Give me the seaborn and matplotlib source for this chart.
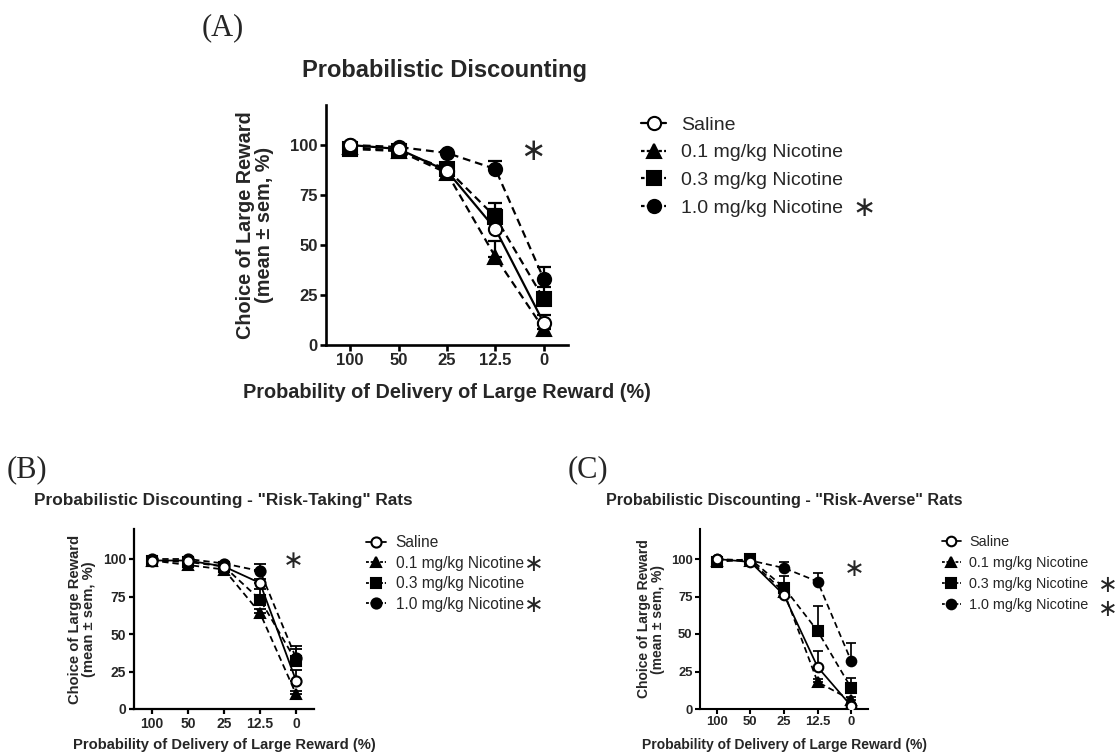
import numpy as np
import pandas as pd
import matplotlib
matplotlib.use("Agg")
import matplotlib.pyplot as plt
import seaborn as sns

sns.set_theme(style="ticks")
plt.rcParams['font.family'] = ['Liberation Sans', 'DejaVu Sans']

# ---------------- data ----------------
prob_labels = ["100", "50", "25", "12.5", "0"]
groups = ["Saline", "0.1 mg/kg Nicotine", "0.3 mg/kg Nicotine", "1.0 mg/kg Nicotine"]

# Panel A (all rats)
a_saline = [100, 98, 87, 58, 11]
a_nic01 = [99, 97, 86, 44, 8]
a_nic03 = [98, 97, 88, 64, 23]
a_nic10 = [100, 99, 96, 88, 33]
a_err_saline = [1, 1, 1, 10, 4]
a_err_nic01 = [1, 1, 1, 8, 2]
a_err_nic03 = [1, 1, 3, 7, 6]
a_err_nic10 = [1, 1, 1, 4, 6]

# Panel B (risk-taking)
b_saline = [99, 99, 95, 84, 19]
b_nic01 = [99, 96, 93, 64, 10]
b_nic03 = [99, 98, 95, 73, 32]
b_nic10 = [100, 100, 97, 92, 34]
b_err_saline = [1, 1, 1, 3, 7]
b_err_nic01 = [1, 1, 1, 3, 2]
b_err_nic03 = [1, 1, 1, 7, 8]
b_err_nic10 = [1, 1, 1, 5, 8]

# Panel C (risk-averse)
c_saline = [100, 98, 76, 28, 2]
c_nic01 = [99, 99, 78, 18, 6]
c_nic03 = [98, 100, 81, 52, 14]
c_nic10 = [100, 99, 94, 85, 32]
c_err_saline = [1, 1, 2, 11, 2]
c_err_nic01 = [1, 1, 2, 2, 2]
c_err_nic03 = [1, 1, 8, 17, 7]
c_err_nic10 = [1, 1, 4, 6, 12]

titles = ["Probabilistic Discounting",
          'Probabilistic Discounting - "Risk-Taking" Rats',
          'Probabilistic Discounting - "Risk-Averse" Rats']
panel_tags = ["(A)", "(B)", "(C)"]
xlabel = "Probability of Delivery of Large Reward (%)"
ylabel = "Choice of Large Reward\n(mean \u00b1 sem, %)"
yticks = [0, 25, 50, 75, 100]

markers = ["o", "^", "s", "o"]
facecolors = ["white", "black", "black", "black"]
linestyles = ["-", (0, (3.5, 2.2)), (0, (3.5, 2.2)), (0, (3.5, 2.2))]

W, H = 1119, 754
fig = plt.figure(figsize=(W / 100, H / 100), dpi=100)


def px_axes(l, r, t, b):
    return fig.add_axes([l / W, 1 - b / H, (r - l) / W, (b - t) / H])


def draw_panel(ax, series, errs, s):
    pos = np.arange(len(prob_labels))
    for i, (g, vals, e) in enumerate(zip(groups, series, errs)):
        ax.errorbar(pos, vals, yerr=[np.zeros(len(e)), e], fmt="none",
                    ecolor="black", elinewidth=s["lw"], capsize=s["cap"],
                    capthick=s["lw"], zorder=2)
    for i, (g, vals) in enumerate(zip(groups, series)):
        df = pd.DataFrame({"pos": pos, "val": vals})
        sns.lineplot(data=df, x="pos", y="val", ax=ax, color="black",
                     marker=markers[i], markersize=s["ms"],
                     markerfacecolor=facecolors[i], markeredgecolor="black",
                     markeredgewidth=1.5, linestyle=linestyles[i],
                     linewidth=s["lw"], label=g, zorder=3 + (i == 0))
    ax.set_xlim(-0.5, 4.5)
    ax.set_ylim(0, 120)
    ax.set_xticks(pos)
    ax.set_xticklabels(prob_labels)
    ax.set_yticks(yticks)
    for lab in ax.get_xticklabels() + ax.get_yticklabels():
        lab.set_fontweight("bold")
        lab.set_fontsize(s["tick"])
    ax.tick_params(direction="out", length=s["tl"], width=s["spw"], pad=2,
                   color="black")
    sns.despine(ax=ax)
    for sp in ["left", "bottom"]:
        ax.spines[sp].set_linewidth(s["spw"])
        ax.spines[sp].set_color("black")
    ax.set_xlabel(xlabel, fontsize=s["lab"], fontweight="bold")
    ax.set_ylabel(ylabel, fontsize=s["lab"], fontweight="bold",
                  multialignment="center", linespacing=1.0)
    ax.xaxis.label.set_va("center")
    ax.yaxis.label.set_va("center")
    ax.xaxis.set_label_coords(0.5, s["xl"])
    ax.yaxis.set_label_coords(s["yl"], 0.5)
    ax.get_legend().remove()


sA = dict(lw=1.6, cap=5, ms=9.5, tick=12, tl=4, spw=1.9, lab=14.3, xl=-0.2, yl=-0.295)
sB = dict(lw=1.3, cap=4, ms=7.3, tick=10, tl=3.5, spw=1.6, lab=10.6, xl=-0.2, yl=-0.29)
sC = dict(lw=1.25, cap=3.8, ms=6.9, tick=9.4, tl=3.3, spw=1.5, lab=10.0, xl=-0.2, yl=-0.29)

axA = px_axes(326, 568, 105, 345)
draw_panel(axA, [a_saline, a_nic01, a_nic03, a_nic10],
           [a_err_saline, a_err_nic01, a_err_nic03, a_err_nic10], sA)
axB = px_axes(134, 314, 529, 709)
draw_panel(axB, [b_saline, b_nic01, b_nic03, b_nic10],
           [b_err_saline, b_err_nic01, b_err_nic03, b_err_nic10], sB)
axC = px_axes(700, 868, 529, 709)
draw_panel(axC, [c_saline, c_nic01, c_nic03, c_nic10],
           [c_err_saline, c_err_nic01, c_err_nic03, c_err_nic10], sC)


def legend_at(ax, x_px, y_px, fs, spacing, tpad):
    h, l = ax.get_legend_handles_labels()
    leg = fig.legend(h, l, loc="upper left",
                     bbox_to_anchor=(x_px / W, 1 - y_px / H),
                     frameon=False, fontsize=fs, handlelength=1.3,
                     handletextpad=tpad, labelspacing=spacing,
                     borderaxespad=0, borderpad=0)
    for i, ln in enumerate(leg.get_lines()):
        if i > 0:
            ln.set_linestyle((0, (1.6, 1.0)))
    return leg


legend_at(axA, 641, 116, 14, 0.52, 0.75)
legend_at(axB, 366, 535, 11.2, 0.36, 0.6)
legend_at(axC, 942, 535, 10.4, 0.48, 0.6)

# titles and panel tags
fig.text(445 / W, 1 - 70 / H, titles[0], ha="center", va="center",
         fontsize=17, fontweight="bold")
fig.text(223 / W, 1 - 500 / H, titles[1], ha="center", va="center",
         fontsize=12.4, fontweight="bold")
fig.text(784 / W, 1 - 500 / H, titles[2], ha="center", va="center",
         fontsize=11.6, fontweight="bold")
serif = ["Liberation Serif", "DejaVu Serif"]
fig.text(223 / W, 1 - 28 / H, panel_tags[0], ha="center", va="center",
         fontsize=22, family=serif)
fig.text(27 / W, 1 - 470 / H, panel_tags[1], ha="center", va="center",
         fontsize=22, family=serif)
fig.text(588 / W, 1 - 470 / H, panel_tags[2], ha="center", va="center",
         fontsize=22, family=serif)

# significance asterisks
star = "\u2217"
sfam = ["DejaVu Sans"]
axA.text(3.78, 97, star, ha="center", va="center", fontsize=22, family=sfam)
axB.text(3.92, 99, star, ha="center", va="center", fontsize=18, family=sfam)
axC.text(4.1, 93, star, ha="center", va="center", fontsize=18, family=sfam)
fig.text(864 / W, 1 - 208 / H, star, ha="center", va="center", fontsize=20, family=sfam)
fig.text(534 / W, 1 - 564 / H, star, ha="center", va="center", fontsize=17, family=sfam)
fig.text(534 / W, 1 - 605 / H, star, ha="center", va="center", fontsize=17, family=sfam)
fig.text(1108 / W, 1 - 585 / H, star, ha="center", va="center", fontsize=17, family=sfam)
fig.text(1108 / W, 1 - 609 / H, star, ha="center", va="center", fontsize=17, family=sfam)

fig.savefig("out.png", dpi=100)
